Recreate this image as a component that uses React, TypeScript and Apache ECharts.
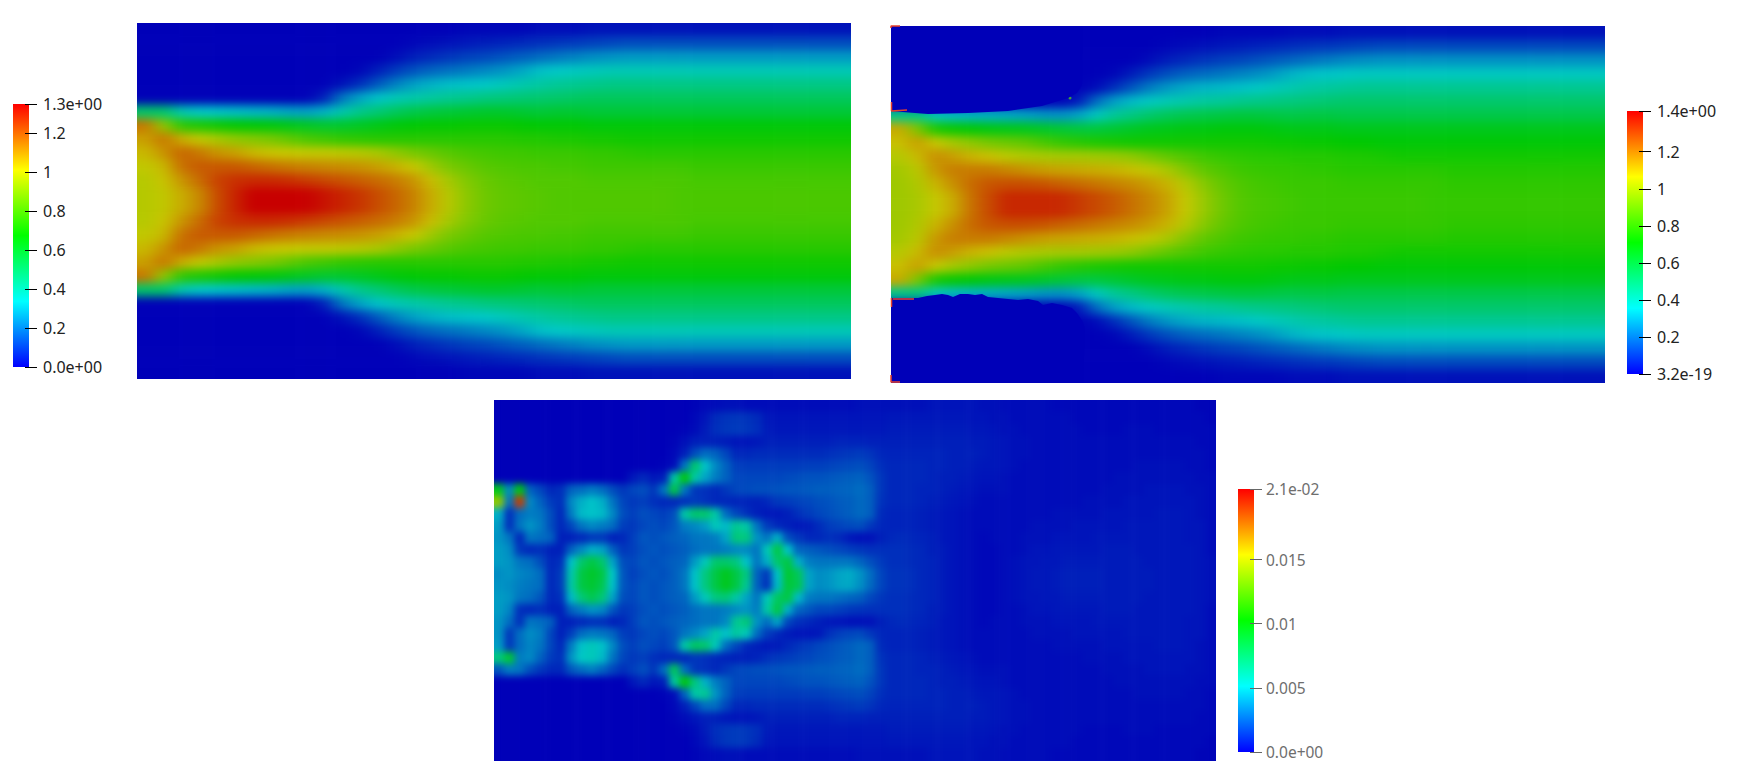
import React, { useEffect, useRef } from "react";
import * as echarts from "echarts";

// Panel 1, one list per column (left to right), rows top to bottom, in hundredths.
const field1Columns = [
[0,0,0,0,0,0,50,115,108,104,100,98,98,98,98,100,104,108,115,50,0,0,0,0,0,0],
[0,0,0,0,0,0,50,92,115,110,104,102,100,100,102,104,110,115,92,50,0,0,0,0,0,0],
[0,0,0,0,0,0,38,75,106,118,116,110,106,106,110,116,118,106,75,38,0,0,0,0,0,0],
[0,0,0,0,0,0,34,72,100,115,120,117,112,112,117,120,115,100,72,34,0,0,0,0,0,0],
[0,0,0,0,0,0,33,70,96,110,120,124,122,122,124,120,110,96,70,33,0,0,0,0,0,0],
[0,0,0,0,0,0,32,68,92,108,120,127,129,129,127,120,108,92,68,32,0,0,0,0,0,0],
[0,0,0,0,0,0,31,67,90,104,118,128,135,135,128,118,104,90,67,31,0,0,0,0,0,0],
[0,0,0,0,0,0,30,66,88,102,116,128,135,135,128,116,102,88,66,30,0,0,0,0,0,0],
[0,0,0,0,0,0,28,64,84,101,114,127,135,135,127,114,101,84,64,28,0,0,0,0,0,0],
[0,0,0,0,0,0,27,62,80,100,113,125,135,135,125,113,100,80,62,27,0,0,0,0,0,0],
[0,0,0,0,0,5,30,60,78,100,112,123,132,132,123,112,100,78,60,30,5,0,0,0,0,0],
[0,0,0,0,3,20,38,60,76,99,111,121,129,129,121,111,99,76,60,38,20,3,0,0,0,0],
[0,0,0,1,8,28,44,62,75,98,110,119,126,126,119,110,98,75,62,44,28,8,1,0,0,0],
[0,0,0,5,15,33,48,64,74,96,108,117,122,122,117,108,96,74,64,48,33,15,5,0,0,0],
[0,0,2,10,22,37,52,66,74,92,105,114,118,118,114,105,92,74,66,52,37,22,10,2,0,0],
[0,1,5,14,27,39,55,67,74,88,101,110,113,113,110,101,88,74,67,55,39,27,14,5,1,0],
[0,2,7,17,30,41,57,68,74,85,94,103,106,106,103,94,85,74,68,57,41,30,17,7,2,0],
[0,3,9,19,32,43,58,68,74,82,88,95,98,98,95,88,82,74,68,58,43,32,19,9,3,0],
[1,4,11,21,33,44,59,69,74,80,85,89,91,91,89,85,80,74,69,59,44,33,21,11,4,1],
[1,5,12,23,34,46,60,69,74,79,82,85,86,86,85,82,79,74,69,60,46,34,23,12,5,1],
[1,6,14,25,36,47,60,69,74,78,81,83,84,84,83,81,78,74,69,60,47,36,25,14,6,1],
[1,7,16,28,38,48,59,68,73,78,80,82,83,83,82,80,78,73,68,59,48,38,28,16,7,1],
[2,8,18,32,40,49,58,67,73,77,80,81,82,82,81,80,77,73,67,58,49,40,32,18,8,2],
[2,9,20,34,42,50,59,67,72,77,79,81,81,81,81,79,77,72,67,59,50,42,34,20,9,2],
[2,10,22,35,43,51,59,67,72,77,79,81,81,81,81,79,77,72,67,59,51,43,35,22,10,2],
[3,11,24,36,44,52,58,66,71,76,78,80,81,81,80,78,76,71,66,58,52,44,36,24,11,3],
[3,12,25,37,45,52,58,66,71,76,78,80,81,81,80,78,76,71,66,58,52,45,37,25,12,3],
[3,13,26,37,45,52,58,66,70,75,78,80,81,81,80,78,75,70,66,58,52,45,37,26,13,3],
[3,13,26,37,45,52,58,66,70,74,78,80,81,81,80,78,74,70,66,58,52,45,37,26,13,3],
[3,13,26,37,45,52,58,66,70,74,78,80,81,81,80,78,74,70,66,58,52,45,37,26,13,3],
[3,13,26,37,45,52,58,66,70,74,78,80,80,80,80,78,74,70,66,58,52,45,37,26,13,3],
[3,13,26,37,45,52,58,66,70,74,77,79,80,80,79,77,74,70,66,58,52,45,37,26,13,3],
[3,13,26,37,45,52,58,66,70,74,77,79,80,80,79,77,74,70,66,58,52,45,37,26,13,3],
[3,13,26,37,45,52,58,66,70,74,77,79,80,80,79,77,74,70,66,58,52,45,37,26,13,3],
[3,13,26,37,45,52,58,66,70,74,77,79,80,80,79,77,74,70,66,58,52,45,37,26,13,3],
[3,13,26,37,45,52,58,66,70,74,77,79,80,80,79,77,74,70,66,58,52,45,37,26,13,3],
[3,13,26,37,45,52,58,66,70,74,77,79,80,80,79,77,74,70,66,58,52,45,37,26,13,3],
[3,13,26,37,45,52,58,66,70,74,77,79,80,80,79,77,74,70,66,58,52,45,37,26,13,3],
[3,13,26,37,45,52,58,66,70,74,77,79,80,80,79,77,74,70,66,58,52,45,37,26,13,3],
[3,13,26,37,45,52,58,66,70,74,77,79,80,80,79,77,74,70,66,58,52,45,37,26,13,3],
];

// Panel 2, same layout.
const field2Columns = [
[0,0,0,0,0,0,46,112,108,103,100,99,99,99,99,100,103,108,112,46,0,0,0,0,0,0],
[0,0,0,0,0,0,48,93,114,109,104,102,101,101,102,104,109,114,93,48,0,0,0,0,0,0],
[0,0,0,0,0,0,37,75,106,117,115,110,106,106,110,115,117,106,75,37,0,0,0,0,0,0],
[0,0,0,0,0,0,33,72,100,114,120,117,112,112,117,120,114,100,72,33,0,0,0,0,0,0],
[0,0,0,0,0,0,32,70,96,110,120,123,122,122,123,120,110,96,70,32,0,0,0,0,0,0],
[0,0,0,0,0,0,31,68,92,108,120,127,129,129,127,120,108,92,68,31,0,0,0,0,0,0],
[0,0,0,0,0,0,30,67,90,104,118,128,135,135,128,118,104,90,67,30,0,0,0,0,0,0],
[0,0,0,0,0,0,29,66,88,102,116,128,135,135,128,116,102,88,66,29,0,0,0,0,0,0],
[0,0,0,0,0,0,27,64,84,101,114,127,135,135,127,114,101,84,64,27,0,0,0,0,0,0],
[0,0,0,0,0,0,26,62,80,100,113,125,135,135,125,113,100,80,62,26,0,0,0,0,0,0],
[0,0,0,0,0,4,29,60,78,100,112,123,132,132,123,112,100,78,60,29,4,0,0,0,0,0],
[0,0,0,0,2,19,37,60,76,99,111,121,129,129,121,111,99,76,60,37,19,2,0,0,0,0],
[0,0,0,1,8,28,44,62,75,98,110,119,126,126,119,110,98,75,62,44,28,8,1,0,0,0],
[0,0,0,5,15,33,48,64,74,96,108,117,122,122,117,108,96,74,64,48,33,15,5,0,0,0],
[0,0,2,10,22,37,52,66,74,92,105,114,118,118,114,105,92,74,66,52,37,22,10,2,0,0],
[0,1,5,14,27,39,55,67,74,88,101,110,113,113,110,101,88,74,67,55,39,27,14,5,1,0],
[0,2,7,17,30,41,57,68,74,85,94,103,106,106,103,94,85,74,68,57,41,30,17,7,2,0],
[0,3,9,19,32,43,58,68,74,82,88,95,98,98,95,88,82,74,68,58,43,32,19,9,3,0],
[1,4,11,21,33,44,59,69,74,80,85,89,91,91,89,85,80,74,69,59,44,33,21,11,4,1],
[1,5,12,23,34,46,60,69,74,79,82,85,86,86,85,82,79,74,69,60,46,34,23,12,5,1],
[1,6,14,25,36,47,60,69,74,78,81,83,84,84,83,81,78,74,69,60,47,36,25,14,6,1],
[1,7,16,28,38,48,59,68,73,78,80,82,83,83,82,80,78,73,68,59,48,38,28,16,7,1],
[2,8,18,32,40,49,58,67,73,77,80,81,82,82,81,80,77,73,67,58,49,40,32,18,8,2],
[2,9,20,34,42,50,59,67,72,77,79,81,81,81,81,79,77,72,67,59,50,42,34,20,9,2],
[2,10,22,35,43,51,59,67,72,77,79,81,81,81,81,79,77,72,67,59,51,43,35,22,10,2],
[3,11,24,36,44,52,58,66,71,76,78,80,81,81,80,78,76,71,66,58,52,44,36,24,11,3],
[3,12,25,37,45,52,58,66,71,76,78,80,81,81,80,78,76,71,66,58,52,45,37,25,12,3],
[3,13,26,37,45,52,58,66,70,75,78,80,81,81,80,78,75,70,66,58,52,45,37,26,13,3],
[3,13,26,37,45,52,58,66,70,74,78,80,81,81,80,78,74,70,66,58,52,45,37,26,13,3],
[3,13,26,37,45,52,58,66,70,74,78,80,81,81,80,78,74,70,66,58,52,45,37,26,13,3],
[3,13,26,37,45,52,58,66,70,74,78,80,80,80,80,78,74,70,66,58,52,45,37,26,13,3],
[3,13,26,37,45,52,58,66,70,74,77,79,80,80,79,77,74,70,66,58,52,45,37,26,13,3],
[3,13,26,37,45,52,58,66,70,74,77,79,80,80,79,77,74,70,66,58,52,45,37,26,13,3],
[3,13,26,37,45,52,58,66,70,74,77,79,80,80,79,77,74,70,66,58,52,45,37,26,13,3],
[3,13,26,37,45,52,58,66,70,74,77,79,80,80,79,77,74,70,66,58,52,45,37,26,13,3],
[3,13,26,37,45,52,58,66,70,74,77,79,80,80,79,77,74,70,66,58,52,45,37,26,13,3],
[3,13,26,37,45,52,58,66,70,74,77,79,80,80,79,77,74,70,66,58,52,45,37,26,13,3],
[3,13,26,37,45,52,58,66,70,74,77,79,80,80,79,77,74,70,66,58,52,45,37,26,13,3],
[3,13,26,37,45,52,58,66,70,74,77,79,80,80,79,77,74,70,66,58,52,45,37,26,13,3],
[3,13,26,37,45,52,58,66,70,74,77,79,80,80,79,77,74,70,66,58,52,45,37,26,13,3],
];

// Panel 3, one list per row (top to bottom), columns left to right, in units of 1e-4.
const field3Rows = [
[0,0,0,0,0,0,0,0,0,0,0,0,0,0,0,0,0,0,0,1,2,3,4,4,3,3,3,3,3,3,3,3,3,3,3,4,4,4,4,4,4,4,5,5,5,5,5,4,4,3,3,3,3,3,2,2,2,2,2,2,2,2,2,2,2,2,2,2,1,1],
[0,0,0,0,0,0,0,0,0,0,0,0,0,0,0,0,0,0,0,2,5,11,13,14,13,11,6,5,5,5,5,5,5,5,5,5,5,5,6,6,6,6,6,6,6,6,5,5,4,4,3,3,3,3,3,3,2,2,2,2,2,2,2,2,2,2,2,2,2,1],
[0,0,0,0,0,0,0,0,0,0,0,0,0,0,0,0,0,0,1,3,7,12,14,15,14,12,7,6,6,6,6,6,6,6,6,6,6,6,7,7,7,7,7,7,7,7,6,6,5,4,4,3,3,3,3,3,3,2,2,2,2,3,3,3,2,2,2,2,2,2],
[0,0,0,0,0,0,0,0,0,0,0,0,0,0,0,0,0,1,4,8,8,8,7,5,5,6,8,8,8,8,8,8,8,9,9,9,8,8,8,8,8,8,8,8,8,8,7,7,6,5,4,4,3,3,3,3,3,3,3,3,3,3,3,3,3,3,3,3,2,2],
[0,0,0,0,0,0,0,0,0,0,0,0,0,0,0,0,0,2,8,20,28,25,18,10,10,11,11,11,11,11,11,11,12,13,14,15,13,10,9,9,9,9,9,9,8,8,8,7,6,5,4,4,3,3,3,3,3,3,3,3,3,3,3,3,3,3,3,3,3,2],
[0,0,0,0,0,0,0,0,0,0,0,0,0,0,0,0,1,3,30,75,50,35,25,16,15,15,15,15,15,15,16,16,17,18,19,20,17,12,10,10,10,10,9,9,8,8,7,6,6,5,4,3,3,3,3,3,3,3,3,3,3,3,4,4,4,4,4,3,3,2],
[0,0,0,0,0,0,0,0,0,0,0,0,0,6,10,6,8,60,100,60,42,32,25,18,18,18,18,18,19,20,21,21,22,23,24,25,21,14,10,10,10,10,9,8,8,7,6,5,5,4,3,3,3,3,3,3,3,3,3,3,4,4,4,4,4,4,4,4,3,3],
[95,35,100,25,18,10,12,25,28,32,28,20,14,18,20,14,30,85,30,14,12,10,14,18,19,20,20,21,22,22,23,24,24,25,26,28,24,14,10,10,10,9,9,8,7,6,5,4,4,4,3,3,3,3,3,3,3,3,3,4,4,4,4,5,5,5,5,4,4,3],
[140,30,190,35,25,15,12,35,45,50,45,30,18,14,16,12,10,10,12,15,12,10,10,9,9,8,10,14,15,17,18,20,21,23,24,27,24,13,10,10,10,9,8,7,6,5,4,3,3,3,3,3,3,3,3,3,3,4,4,4,4,5,5,5,5,5,5,5,4,3],
[45,12,28,32,30,20,10,32,48,50,48,35,20,16,20,18,16,20,60,75,75,60,28,18,12,8,6,6,8,12,15,18,20,22,24,27,24,11,9,9,9,8,7,6,5,4,3,3,3,3,3,3,3,3,4,4,4,4,4,5,5,5,5,5,6,6,6,5,4,3],
[40,12,30,38,32,20,10,18,30,35,32,28,16,14,18,20,18,22,32,35,40,55,48,65,60,30,15,10,8,6,7,11,15,17,19,20,14,10,9,9,9,8,7,6,5,4,3,3,3,3,3,3,4,4,4,4,5,5,5,5,5,6,6,6,6,6,6,5,5,3],
[38,30,10,30,28,25,8,8,10,14,14,8,10,16,22,20,22,24,26,30,30,32,42,72,70,38,30,45,20,14,10,10,12,10,6,4,4,8,10,11,10,9,8,6,5,4,3,2,3,3,3,4,4,4,5,5,5,5,6,6,6,6,6,6,6,6,6,5,5,3],
[40,36,14,10,12,8,8,25,35,45,42,25,14,16,20,22,20,22,24,28,30,30,32,35,35,30,55,85,50,26,24,22,20,18,16,14,12,12,12,12,11,10,8,7,5,4,3,2,2,3,3,4,5,5,6,6,6,6,6,7,7,7,6,6,6,6,6,6,5,3],
[40,38,30,28,20,10,12,50,75,85,75,42,20,18,22,20,22,24,26,40,55,75,75,70,50,30,45,75,85,45,32,30,30,30,30,26,20,15,12,12,11,10,9,7,5,4,3,2,2,3,4,5,5,6,6,7,7,7,7,7,7,7,7,6,6,6,6,6,5,4],
[36,38,34,32,28,10,15,58,85,92,85,52,22,16,20,22,20,24,30,50,70,85,95,85,70,25,14,50,90,80,42,36,38,42,44,38,28,18,13,13,12,10,9,7,5,4,3,2,2,3,4,5,6,6,7,8,8,8,8,7,7,7,7,7,6,6,6,6,5,4],
[38,36,32,30,28,10,15,60,85,90,82,50,22,18,22,20,22,24,30,50,70,85,95,85,65,25,12,48,88,82,42,36,38,42,43,37,27,18,13,13,12,10,9,7,5,4,3,2,2,3,4,5,6,6,7,8,8,8,8,7,7,7,7,7,6,6,6,6,5,4],
[40,38,30,28,22,10,12,48,72,82,72,42,20,18,22,20,22,24,26,40,55,70,72,60,42,30,55,78,85,48,32,30,30,28,26,24,18,14,12,12,11,10,9,7,5,4,3,2,2,3,4,5,5,6,6,7,7,7,7,7,7,7,7,6,6,6,6,6,5,4],
[40,34,12,10,12,8,8,25,32,38,35,22,14,16,20,22,20,22,24,28,30,30,32,35,38,32,60,85,45,26,22,18,18,16,14,13,12,12,12,12,11,10,8,7,5,4,3,2,2,3,3,4,5,5,6,6,6,6,6,7,7,7,6,6,6,6,6,6,5,3],
[38,28,12,30,28,24,8,8,10,12,12,8,10,16,22,20,22,24,26,28,30,30,35,65,72,38,28,42,18,12,10,8,6,5,4,4,4,8,10,11,10,9,8,6,5,4,3,2,3,3,3,4,4,4,5,5,5,5,6,6,6,6,6,6,6,6,6,5,5,3],
[38,14,28,36,32,18,8,16,28,32,30,26,16,14,18,20,18,22,30,35,42,60,50,62,55,28,15,10,7,5,5,6,12,16,18,19,14,10,9,9,9,8,7,6,5,4,3,3,3,3,3,3,4,4,4,4,5,5,5,5,5,6,6,6,6,6,6,5,5,3],
[40,14,28,34,30,18,10,32,50,55,50,35,20,16,20,18,16,22,60,78,75,55,28,18,10,8,6,7,10,13,15,18,20,22,24,27,24,11,9,9,9,8,7,6,5,4,3,3,3,3,3,3,3,3,4,4,4,4,4,5,5,5,5,5,6,6,6,5,4,3],
[70,90,32,35,25,15,12,38,52,55,48,30,18,14,16,12,10,10,10,14,12,10,9,8,8,9,12,14,15,17,18,20,21,23,24,27,24,13,10,10,10,9,8,7,6,5,4,3,3,3,3,3,3,3,3,3,3,4,4,4,4,5,5,5,5,5,5,5,4,3],
[22,32,30,20,14,10,10,22,28,32,26,18,12,16,20,14,28,80,28,14,12,10,14,18,19,20,20,21,22,22,23,24,24,25,26,28,24,14,10,10,10,9,9,8,7,6,5,4,4,4,3,3,3,3,3,3,3,3,3,4,4,4,4,5,5,5,5,4,4,3],
[0,0,0,0,0,0,0,0,0,0,0,0,0,6,10,6,8,62,100,70,45,32,25,18,18,18,18,18,19,20,21,21,22,23,24,25,21,14,10,10,10,10,9,8,8,7,6,5,5,4,3,3,3,3,3,3,3,3,3,3,4,4,4,4,4,4,4,4,3,3],
[0,0,0,0,0,0,0,0,0,0,0,0,0,0,0,0,1,3,25,60,65,38,25,16,15,15,15,15,15,15,16,16,17,18,19,20,17,12,10,10,10,10,9,9,8,8,7,6,6,5,4,3,3,3,3,3,3,3,3,3,3,3,4,4,4,4,4,3,3,2],
[0,0,0,0,0,0,0,0,0,0,0,0,0,0,0,0,0,2,8,18,28,28,18,10,10,11,11,11,11,11,11,11,12,13,14,15,13,10,9,9,9,9,9,9,8,8,8,7,6,5,4,4,3,3,3,3,3,3,3,3,3,3,3,3,3,3,3,3,3,2],
[0,0,0,0,0,0,0,0,0,0,0,0,0,0,0,0,0,1,3,6,8,8,6,5,5,6,8,8,8,8,8,8,8,9,9,9,8,8,8,8,8,8,8,8,8,8,7,7,6,5,4,4,3,3,3,3,3,3,3,3,3,3,3,3,3,3,3,3,2,2],
[0,0,0,0,0,0,0,0,0,0,0,0,0,0,0,0,0,0,1,3,7,12,14,15,14,12,7,6,6,6,6,6,6,6,6,6,6,6,7,7,7,7,7,7,7,7,6,6,5,4,4,3,3,3,3,3,3,2,2,2,2,3,3,3,2,2,2,2,2,2],
[0,0,0,0,0,0,0,0,0,0,0,0,0,0,0,0,0,0,0,2,5,11,14,15,14,11,6,5,5,5,5,5,5,5,5,5,5,5,6,6,6,6,6,6,6,6,5,5,4,4,3,3,3,3,3,3,2,2,2,2,2,2,2,2,2,2,2,2,2,1],
[0,0,0,0,0,0,0,0,0,0,0,0,0,0,0,0,0,0,0,1,2,3,4,4,3,3,3,3,3,3,3,3,3,3,3,4,4,4,4,4,4,4,5,5,5,5,5,4,4,3,3,3,3,3,2,2,2,2,2,2,2,2,2,2,2,2,2,2,1,1],
];

const scale1Ticks = [0, 0.2, 0.4, 0.6, 0.8, 1, 1.2, 1.35];
const scale1Labels = ["0.0e+00", "0.2", "0.4", "0.6", "0.8", "1", "1.2", "1.3e+00"];
const scale2Ticks = [0, 0.2, 0.4, 0.6, 0.8, 1, 1.2, 1.42];
const scale2Labels = ["3.2e-19", "0.2", "0.4", "0.6", "0.8", "1", "1.2", "1.4e+00"];
const scale3Ticks = [0, 0.005, 0.01, 0.015, 0.0205];
const scale3Labels = ["0.0e+00", "0.005", "0.01", "0.015", "2.1e-02"];

// Panel 2's sharp no-flow regions, in panel pixels from the panel's top-left corner.
const upperDeadZone = [[0,85],[24,87],[37,88],[77,87],[117,85],[151,80],[177,72],[186,67],[191,59],[192,0]];
const lowerDeadZone = [[0,272],[27,272],[36,270],[44,269],[51,268],[57,269],[62,271],[69,268],[77,268],[84,269],[91,268],[97,271],[107,272],[117,273],[127,274],[137,273],[147,275],[152,279],[161,277],[171,279],[181,282],[186,287],[192,296],[194,304],[192,357]];
const hotEdges = [
  [[0,2],[0,0],[9,0]],
  [[0.5,76],[0.5,85],[16,84]],
  [[0.5,272],[0.5,281]],
  [[2,273],[23,273]],
  [[0,349],[0,356],[9,356]],
];
const hotSpecks = [[179,72],[185,311]];

const DARK_RAINBOW = ["#0000b8", "#00c8c8", "#00c800", "#c8c800", "#c80000"];
const BRIGHT_RAINBOW = ["#0000ff", "#00ffff", "#00ff00", "#ffff00", "#ff0000"];

const panels = [
  { left: 137, top: 23, width: 714, height: 356, max: 1.35, unit: 100, cols: field1Columns.length, rows: field1Columns[0].length, at: (c: number, r: number) => field1Columns[c][r] },
  { left: 891, top: 26, width: 714, height: 357, max: 1.42, unit: 100, cols: field2Columns.length, rows: field2Columns[0].length, at: (c: number, r: number) => field2Columns[c][r] },
  { left: 494, top: 400, width: 722, height: 361, max: 0.0205, unit: 10000, cols: field3Rows[0].length, rows: field3Rows.length, at: (c: number, r: number) => field3Rows[r][c] },
];

const bars = [
  { left: 13, top: 104, ticks: scale1Ticks, labels: scale1Labels, max: 1.35, color: "#222222", size: 16, tick: "#000000", margin: 18 },
  { left: 1627, top: 111, ticks: scale2Ticks, labels: scale2Labels, max: 1.42, color: "#222222", size: 16, tick: "#000000", margin: 18 },
  { left: 1238, top: 489, ticks: scale3Ticks, labels: scale3Labels, max: 0.0205, color: "#6e6e6e", size: 15.5, tick: "#666666", margin: 16 },
];

const clamp = (v: number, hi: number) => Math.max(0, Math.min(hi, v));

function fieldOption(list: typeof panels) {
  const grid: any[] = [], xAxis: any[] = [], yAxis: any[] = [], series: any[] = [], visualMap: any[] = [];
  list.forEach((p, i) => {
    const cw = p.width / p.cols, ch = p.height / p.rows;
    // One extra ring of cells outside the clip keeps the softening from fading at the edges.
    grid.push({ left: p.left - cw, top: p.top - ch, width: p.width + 2 * cw, height: p.height + 2 * ch });
    xAxis.push({ type: "category", gridIndex: i, show: false, data: Array.from({ length: p.cols + 2 }, (_, k) => k) });
    yAxis.push({ type: "category", gridIndex: i, show: false, inverse: true, data: Array.from({ length: p.rows + 2 }, (_, k) => k) });
    const data: number[][] = [];
    for (let c = -1; c <= p.cols; c++) for (let r = -1; r <= p.rows; r++) {
      data.push([c + 1, r + 1, p.at(clamp(c, p.cols - 1), clamp(r, p.rows - 1)) / p.unit]);
    }
    series.push({ type: "heatmap", xAxisIndex: i, yAxisIndex: i, data, progressive: 0, emphasis: { disabled: true } });
    visualMap.push({ show: false, type: "continuous", seriesIndex: i, dimension: 2, min: 0, max: p.max, inRange: { color: DARK_RAINBOW } });
  });
  return { animation: false, grid, xAxis, yAxis, series, visualMap };
}

function overlayOption() {
  const grid: any[] = [], xAxis: any[] = [], yAxis: any[] = [], series: any[] = [];
  bars.forEach((b, i) => {
    grid.push({ left: b.left, top: b.top, width: 16, height: 263 });
    xAxis.push({ type: "category", gridIndex: i, show: false, data: ["scale"] });
    yAxis.push({
      type: "value", gridIndex: i, min: 0, max: b.max, position: "right", offset: -4, z: 5,
      splitLine: { show: false }, axisLine: { show: false },
      axisTick: { show: true, length: 12, customValues: b.ticks, lineStyle: { color: b.tick, width: 1 } },
      axisLabel: {
        show: true, margin: b.margin, customValues: b.ticks, color: b.color,
        fontFamily: "Noto Sans", fontSize: b.size,
        formatter: (v: number) => b.labels[b.ticks.indexOf(v)] ?? "",
      },
    });
    series.push({
      type: "bar", xAxisIndex: i, yAxisIndex: i, barWidth: "100%", data: [b.max], silent: true,
      itemStyle: { color: { type: "linear", x: 0, y: 1, x2: 0, y2: 0, colorStops: BRIGHT_RAINBOW.map((color, k) => ({ offset: k / 4, color })) } },
    });
  });
  const m = bars.length;
  const p2 = panels[1];
  grid.push({ left: p2.left, top: p2.top, width: p2.width, height: p2.height });
  xAxis.push({ type: "value", gridIndex: m, show: false, min: 0, max: p2.width });
  yAxis.push({ type: "value", gridIndex: m, show: false, min: 0, max: p2.height, inverse: true });
  const area = (data: number[][], origin: string) => ({
    type: "line", xAxisIndex: m, yAxisIndex: m, data, symbol: "none", silent: true,
    lineStyle: { width: 0 }, areaStyle: { color: DARK_RAINBOW[0], opacity: 1, origin },
  });
  series.push(area(upperDeadZone, "start"), area(lowerDeadZone, "end"));
  hotEdges.forEach((data) => series.push({
    type: "line", xAxisIndex: m, yAxisIndex: m, data, symbol: "none", silent: true, clip: false,
    lineStyle: { width: 1.5, color: "#e8402a" },
  }));
  series.push({
    type: "scatter", xAxisIndex: m, yAxisIndex: m, data: hotSpecks, symbolSize: 3, silent: true,
    itemStyle: { color: "#50c020" },
  });
  return { animation: false, grid, xAxis, yAxis, series };
}

const clipOf = (list: typeof panels) =>
  `path("${list.map((p) => `M${p.left} ${p.top}H${p.left + p.width}V${p.top + p.height}H${p.left}Z`).join(" ")}")`;
const flowPanels = panels.slice(0, 2);
const errorPanels = panels.slice(2);

export default function App() {
  const flowRef = useRef<HTMLDivElement>(null);
  const errorRef = useRef<HTMLDivElement>(null);
  const overlayRef = useRef<HTMLDivElement>(null);
  useEffect(() => {
    document.body.style.margin = "0";
    document.body.style.background = "#ffffff";
    const flow = echarts.init(flowRef.current!, undefined, { renderer: "svg" });
    const error = echarts.init(errorRef.current!, undefined, { renderer: "svg" });
    const overlay = echarts.init(overlayRef.current!, undefined, { renderer: "svg" });
    flow.setOption(fieldOption(flowPanels));
    error.setOption(fieldOption(errorPanels));
    overlay.setOption(overlayOption());
    return () => { flow.dispose(); error.dispose(); overlay.dispose(); };
  }, []);
  const box: React.CSSProperties = { position: "absolute", left: 0, top: 0, width: 1756, height: 772 };
  return (
    <div style={{ position: "relative", width: 1756, height: 772, overflow: "hidden" }}>
      <svg width="0" height="0" style={{ position: "absolute" }}>
        <defs>
          <filter id="softenFlow" x="0" y="0" width="1" height="1" colorInterpolationFilters="sRGB">
            <feGaussianBlur stdDeviation="8 5" />
          </filter>
          <filter id="softenError" x="0" y="0" width="1" height="1" colorInterpolationFilters="sRGB">
            <feGaussianBlur stdDeviation="3.5 3.5" />
          </filter>
        </defs>
      </svg>
      <div ref={flowRef} style={{ ...box, filter: "url(#softenFlow)", clipPath: clipOf(flowPanels) }} />
      <div ref={errorRef} style={{ ...box, filter: "url(#softenError)", clipPath: clipOf(errorPanels) }} />
      <div ref={overlayRef} style={box} />
    </div>
  );
}
